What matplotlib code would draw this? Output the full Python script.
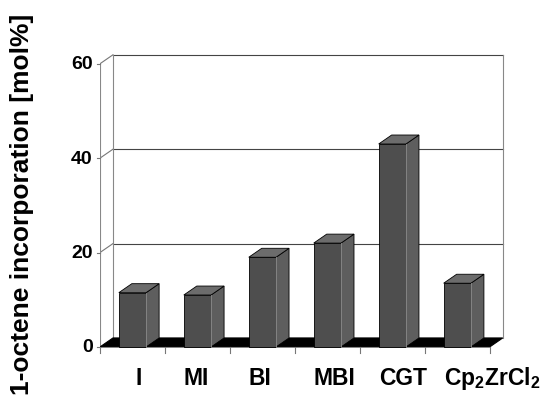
import matplotlib
matplotlib.use("Agg")
import matplotlib.pyplot as plt
from matplotlib.patches import Polygon

plt.rcParams['font.family'] = ['Liberation Sans', 'DejaVu Sans']
plt.rcParams['mathtext.fontset'] = 'custom'
plt.rcParams['mathtext.rm'] = 'Liberation Sans:bold'
plt.rcParams['mathtext.default'] = 'rm'

# data
catalysts = ['I', 'MI', 'BI', 'MBI', 'CGT', r'Cp$_2$ZrCl$_2$']
octene = [11.5, 11.0, 19.0, 22.0, 43.0, 13.5]   # mol%
yticks = [0, 20, 40, 60]

# pseudo-3D look (Excel style)
dx, dy = 0.2, 1.9      # depth offset of box / bars
w = 0.42               # bar front width
c_front, c_side, c_top = '#4e4e4e', '#5e5e5e', '#6c6c6c'

fig = plt.figure(figsize=(5.44, 4.02), dpi=100)
ax = fig.add_axes([100/544, 47/402, 406/544, 299.7/402])
ax.set_xlim(-0.5, 5.75)
ax.set_ylim(-1.5, 62)
ax.axis('off')

n = len(catalysts)
x0, x1 = -0.5, n - 0.5

# back wall + gridlines
for v in yticks[1:]:
    ax.plot([x0 + dx, x1 + dx], [v + dy, v + dy], color='#444', lw=0.8, zorder=1)
    ax.plot([x0, x0 + dx], [v, v + dy], color='#777', lw=0.8, zorder=1)
for xx in (x0 + dx, x1 + dx):
    ax.plot([xx, xx], [dy, yticks[-1] + dy], color='#888', lw=0.8, zorder=1)
ax.plot([x0, x0], [0, yticks[-1]], color='#888', lw=0.8, zorder=1)

# y ticks
for v in yticks:
    ax.plot([x0 - 0.05, x0], [v, v], color='#777', lw=0.8, clip_on=False)
    ax.text(x0 - 0.11, v, str(v), ha='right', va='center', fontsize=14,
            fontweight='bold')

# floor
ax.add_patch(Polygon([(x0, 0), (x1, 0), (x1 + dx, dy), (x0 + dx, dy)],
                     closed=True, facecolor='black', edgecolor='black', lw=0.8, zorder=2))
for b in range(n + 1):
    ax.plot([x0 + b, x0 + b], [0, -1.2], color='#777', lw=0.8, clip_on=False)

# bars
xs = list(range(n))
ax.bar(xs, octene, width=w, color=c_front, edgecolor='black', lw=0.6, zorder=4)
for i, v in zip(xs, octene):
    r, l = i + w / 2, i - w / 2
    ax.add_patch(Polygon([(r, 0), (r + dx, dy), (r + dx, v + dy), (r, v)], closed=True,
                         facecolor=c_side, edgecolor='black', lw=0.6, zorder=3))
    ax.add_patch(Polygon([(l, v), (r, v), (r + dx, v + dy), (l + dx, v + dy)], closed=True,
                         facecolor=c_top, edgecolor='black', lw=0.6, zorder=3))
    ax.plot([r, r], [0, v], color='#9a9a9a', lw=0.6, zorder=5)

# category labels
for i, lab in zip(xs, catalysts):
    if lab == 'I':
        ax.text(i + dx / 2, -6.4, lab, ha='center', va='center', fontsize=16.5,
                fontweight='bold', clip_on=False)
    else:
        ax.text(i - w / 2, -6.4, lab, ha='left', va='center', fontsize=16.5,
                fontweight='bold', clip_on=False)

fig.text(22/544, 1 - 204/402, '1-octene incorporation [mol%]', rotation=90,
         ha='center', va='center', fontsize=19, fontweight='bold')

fig.savefig('out.png', dpi=100)
